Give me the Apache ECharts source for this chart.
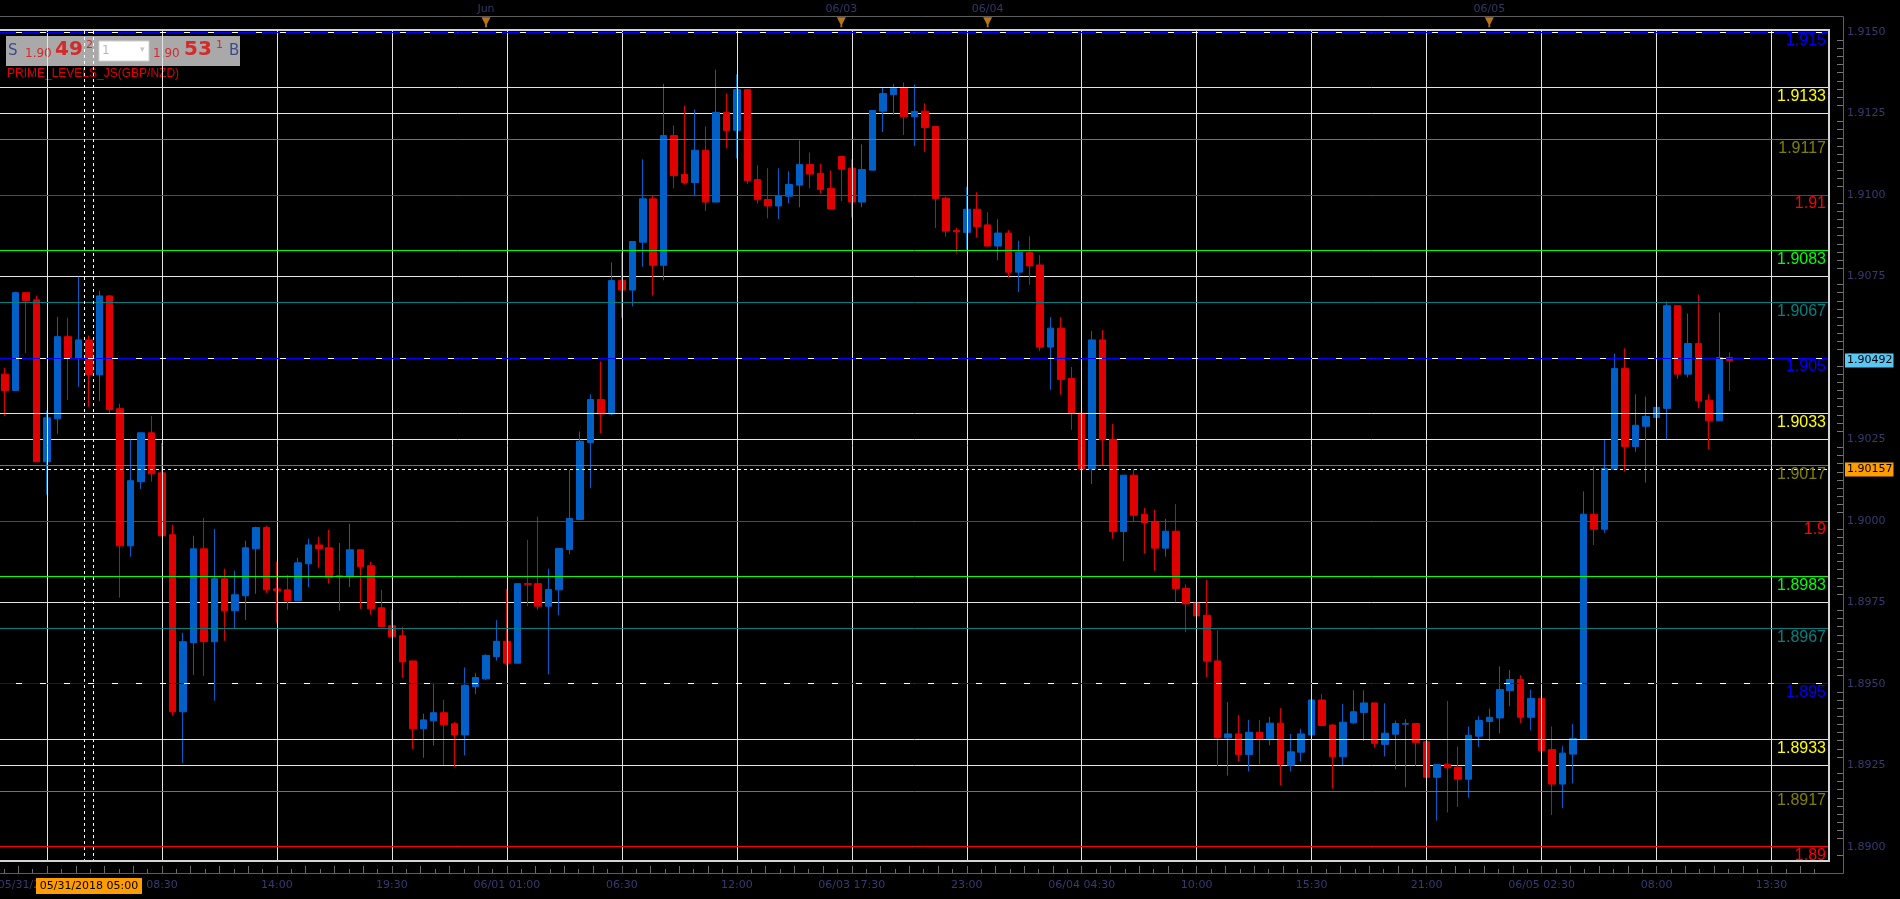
<!DOCTYPE html>
<html>
<head>
	<meta charset="utf-8"/>
	<title>GBP/NZD</title>
	<style>
		* { margin: 0; padding: 0; }
		body { background: #000; }
		#chart { width: 1900px; height: 899px; }
	</style>
</head>
<body>
	<div id="chart"></div>
	<script src="https://cdn.jsdelivr.net/npm/echarts@6/dist/echarts.min.js"></script>
	<script>
		// 30 min candles
		var opens = [
			1.9045, 1.9040, 1.9070, 1.90678, 1.90181, 1.90313, 1.90565, 1.90499, 1.90555, 1.90448,
			1.9069, 1.90344, 1.89923, 1.9012, 1.9027, 1.90147, 1.89957, 1.89414, 1.89626, 1.89914,
			1.89629, 1.89822, 1.89724, 1.8977, 1.89914, 1.89979, 1.89791, 1.89788, 1.89755, 1.89868,
			1.89926, 1.89917, 1.89828, 1.89828, 1.89911, 1.89862, 1.89733, 1.89678, 1.89647, 1.8957,
			1.89362, 1.89386, 1.89411, 1.89377, 1.89343, 1.89491, 1.89515, 1.89583, 1.8963, 1.89563,
			1.89807, 1.89807, 1.89738, 1.89788, 1.89912, 1.90004, 1.9024, 1.90372, 1.90328, 1.90737,
			1.90708, 1.90855, 1.90988, 1.90784, 1.91182, 1.91063, 1.91038, 1.91137, 1.90978, 1.91253,
			1.91198, 1.91323, 1.91047, 1.90986, 1.90966, 1.90996, 1.9103, 1.91093, 1.91066, 1.9102,
			1.91118, 1.91082, 1.90978, 1.91076, 1.91257, 1.91308, 1.91328, 1.9124, 1.91257, 1.9121,
			1.9099, 1.90891, 1.90885, 1.90956, 1.90908, 1.90843, 1.90883, 1.90763, 1.90824, 1.90785,
			1.90533, 1.90591, 1.90437, 1.9033, 1.90159, 1.90555, 1.9025, 1.89967, 1.9014, 1.9002,
			1.89996, 1.89916, 1.89968, 1.89793, 1.89747, 1.8971, 1.8957, 1.89334, 1.89346, 1.89283,
			1.89351, 1.89331, 1.89379, 1.8925, 1.8929, 1.89343, 1.8945, 1.89373, 1.89276, 1.8938,
			1.89412, 1.89441, 1.89314, 1.89345, 1.89376, 1.89378, 1.89322, 1.89213, 1.89253, 1.89244,
			1.89207, 1.89339, 1.89384, 1.89395, 1.89479, 1.89513, 1.89397, 1.89455, 1.89298, 1.89192,
			1.89284, 1.89329, 1.9002, 1.89974, 1.90158, 1.90467, 1.90228, 1.9029, 1.90317, 1.90345,
			1.9066, 1.9045, 1.90544, 1.9037, 1.90307, 1.90501
		];
		var highs = [
			1.90469, 1.90703, 1.9070, 1.90691, 1.90338, 1.90626, 1.90623, 1.90749, 1.90568, 1.90706,
			1.90693, 1.90359, 1.90249, 1.9027, 1.90322, 1.90239, 1.89988, 1.89656, 1.89954, 1.90009,
			1.89975, 1.89853, 1.89847, 1.89939, 1.89982, 1.89985, 1.89874, 1.89834, 1.89886, 1.89945,
			1.89951, 1.89972, 1.89932, 1.89991, 1.89911, 1.89874, 1.89788, 1.89727, 1.89675, 1.8957,
			1.89408, 1.89503, 1.89451, 1.89383, 1.8955, 1.89532, 1.8959, 1.89695, 1.8979, 1.89807,
			1.89942, 1.90013, 1.89853, 1.89915, 1.90156, 1.90274, 1.90388, 1.90489, 1.90793, 1.90822,
			1.90857, 1.91109, 1.90999, 1.91341, 1.91213, 1.91274, 1.91262, 1.9121, 1.91384, 1.91312,
			1.9137, 1.91323, 1.91091, 1.91082, 1.91082, 1.91072, 1.91167, 1.9113, 1.91096, 1.91075,
			1.91118, 1.91109, 1.91155, 1.91259, 1.91329, 1.9134, 1.91345, 1.91339, 1.91281, 1.9121,
			1.90995, 1.90898, 1.91024, 1.91008, 1.90947, 1.90925, 1.90892, 1.90859, 1.90873, 1.90815,
			1.90625, 1.90625, 1.90472, 1.9041, 1.90582, 1.90585, 1.90297, 1.9014, 1.90158, 1.90039,
			1.90033, 1.90006, 1.90051, 1.89805, 1.89794, 1.89818, 1.89664, 1.89444, 1.89404, 1.89389,
			1.89389, 1.89398, 1.89425, 1.89346, 1.89362, 1.89474, 1.89468, 1.89376, 1.89438, 1.8948,
			1.8948, 1.89441, 1.8944, 1.89387, 1.89391, 1.89378, 1.89354, 1.89252, 1.89447, 1.89307,
			1.89369, 1.894, 1.89424, 1.89553, 1.89542, 1.89526, 1.89482, 1.89468, 1.89369, 1.89308,
			1.89376, 1.9009, 1.90167, 1.90248, 1.90513, 1.90529, 1.90388, 1.90381, 1.9055, 1.90673,
			1.9066, 1.90636, 1.90694, 1.90388, 1.90639, 1.90517
		];
		var lows = [
			1.90322, 1.9040, 1.90515, 1.90181, 1.9008, 1.90267, 1.90371, 1.90411, 1.9035, 1.90368,
			1.90331, 1.89764, 1.8989, 1.90098, 1.9012, 1.89954, 1.89402, 1.89257, 1.89527, 1.89524,
			1.89448, 1.89632, 1.89669, 1.89696, 1.89776, 1.89779, 1.89687, 1.89727, 1.89755, 1.89797,
			1.89856, 1.89807, 1.89724, 1.89797, 1.8973, 1.89712, 1.89675, 1.89644, 1.89518, 1.893,
			1.89273, 1.8931, 1.89251, 1.89245, 1.8928, 1.89468, 1.89511, 1.89571, 1.89556, 1.89563,
			1.89738, 1.89727, 1.89529, 1.8971, 1.89898, 1.90004, 1.901, 1.90269, 1.90324, 1.90623,
			1.90658, 1.9078, 1.90691, 1.90738, 1.9102, 1.91032, 1.90996, 1.9095, 1.90978, 1.91143,
			1.91112, 1.91034, 1.90973, 1.90928, 1.90926, 1.90974, 1.90962, 1.9102, 1.91004, 1.90957,
			1.90981, 1.90931, 1.90962, 1.91076, 1.91193, 1.91245, 1.91184, 1.9115, 1.91132, 1.90898,
			1.90872, 1.90822, 1.90832, 1.90869, 1.90843, 1.90799, 1.90746, 1.90702, 1.90724, 1.90521,
			1.90402, 1.90387, 1.90279, 1.90138, 1.90113, 1.90171, 1.89945, 1.89877, 1.89996, 1.89899,
			1.89847, 1.8989, 1.8975, 1.89658, 1.89647, 1.89521, 1.89247, 1.89218, 1.89262, 1.89231,
			1.89253, 1.89311, 1.89188, 1.89231, 1.89262, 1.89343, 1.89372, 1.89178, 1.8925, 1.89376,
			1.89324, 1.89304, 1.89277, 1.89237, 1.89182, 1.89248, 1.89105, 1.8908, 1.89105, 1.89122,
			1.8915, 1.89306, 1.89324, 1.89348, 1.89431, 1.8938, 1.89357, 1.89258, 1.89097, 1.89118,
			1.89194, 1.89329, 1.89926, 1.89963, 1.90158, 1.90151, 1.90212, 1.90117, 1.90266, 1.9025,
			1.90435, 1.9044, 1.90345, 1.9022, 1.90307, 1.90398
		];
		var closes = [
			1.9040, 1.9070, 1.90675, 1.90181, 1.90316, 1.90565, 1.90499, 1.90555, 1.90448, 1.9069,
			1.90341, 1.89923, 1.90123, 1.9027, 1.90144, 1.89954, 1.89414, 1.89629, 1.89914, 1.89629,
			1.89822, 1.89724, 1.89773, 1.89917, 1.89979, 1.89788, 1.89785, 1.89755, 1.89871, 1.89926,
			1.89914, 1.89825, 1.89831, 1.89911, 1.89859, 1.8973, 1.89675, 1.89644, 1.89567, 1.89362,
			1.89389, 1.89411, 1.89374, 1.89343, 1.89495, 1.89519, 1.89587, 1.8963, 1.89563, 1.89807,
			1.89805, 1.89738, 1.89789, 1.89915, 1.90007, 1.90244, 1.90372, 1.90328, 1.90737, 1.90708,
			1.90857, 1.90988, 1.90784, 1.91182, 1.91059, 1.91038, 1.91137, 1.90978, 1.91253, 1.91198,
			1.91323, 1.91044, 1.90985, 1.90966, 1.90998, 1.91032, 1.91093, 1.91064, 1.91017, 1.90957,
			1.91079, 1.90978, 1.91078, 1.91259, 1.91311, 1.91327, 1.9124, 1.91256, 1.91207, 1.90989,
			1.90889, 1.90887, 1.90956, 1.90903, 1.90843, 1.90883, 1.90763, 1.90824, 1.90782, 1.90533,
			1.90591, 1.90434, 1.90329, 1.90159, 1.90555, 1.90249, 1.89967, 1.9014, 1.90017, 1.89994,
			1.89916, 1.89968, 1.89792, 1.89745, 1.89708, 1.89569, 1.89334, 1.89346, 1.89283, 1.89351,
			1.89331, 1.89379, 1.89253, 1.89291, 1.89346, 1.8945, 1.89372, 1.89276, 1.89382, 1.89414,
			1.89441, 1.89317, 1.89348, 1.89378, 1.89378, 1.8932, 1.89213, 1.89252, 1.89242, 1.89207,
			1.89342, 1.89387, 1.89397, 1.89482, 1.89513, 1.89397, 1.89455, 1.89295, 1.89192, 1.89287,
			1.89332, 1.9002, 1.89974, 1.90161, 1.90467, 1.90228, 1.90293, 1.9032, 1.90348, 1.9066,
			1.9045, 1.90544, 1.90368, 1.90307, 1.90501, 1.90492
		];

		var slotCount = 175;		// bar slots on the axis, the last ones are empty
		var tickStart = 4, tickStep = 11;
		var tickLabels = ['05/31/2018 03:00', '08:30', '14:00', '19:30', '06/01 01:00', '06:30', '12:00',
			'06/03 17:30', '23:00', '06/04 04:30', '10:00', '15:30', '21:00', '06/05 02:30', '08:00', '13:30'];
		var yTicks = [1.8900, 1.8925, 1.8950, 1.8975, 1.9000, 1.9025, 1.9050, 1.9075, 1.9100, 1.9125, 1.9150];

		var levelValues = [1.915, 1.9133, 1.9117, 1.91, 1.9083, 1.9067, 1.905, 1.9033, 1.9017, 1.9,
			1.8983, 1.8967, 1.895, 1.8933, 1.8917, 1.89];
		var levelLabels = ['1.915', '1.9133', '1.9117', '1.91', '1.9083', '1.9067', '1.905', '1.9033', '1.9017', '1.9',
			'1.8983', '1.8967', '1.895', '1.8933', '1.8917', '1.89'];
		var levelColors = ['#0000ff', '#ffff00', '#808000', '#ff0000', '#00ff00', '#008080', '#0000ff', '#ffff00', '#808000', '#ff0000',
			'#00ff00', '#008080', '#0000ff', '#ffff00', '#808000', '#ff0000'];

		var markerIdx = [46, 80, 94, 142];
		var markerNames = ['Jun', '06/03', '06/04', '06/05'];

		var lastPrice = 1.90492;
		var crossPrice = 1.90157;
		var crossIdx = 8;
		var crossLabel = '05/31/2018 05:00';

		var axisFont = 'DejaVu Sans';
		var axisTextColor = '#363a70';

		var slots = [];
		for (var i = 0; i < slotCount; i++) slots.push(String(i));

		var candles = opens.map(function (o, i) {
			return [o, closes[i], lows[i], highs[i]];
		});

		function isTick(i) {
			return i >= tickStart && (i - tickStart) % tickStep === 0;
		}

		// small ticks on the bottom axis, 8 per labelled step
		var tallTicks = [], shortTicks = [];
		for (var k = -2; k < 64; k++) {
			var t = tickStart + k * tickStep / 4;
			if (t > -0.5 && t < slotCount - 0.5) tallTicks.push(t);
			var s = t + tickStep / 8;
			if (s > -0.5 && s < slotCount - 0.5) shortTicks.push(s);
		}
		// minor ticks on the price axis
		var yMinor = [];
		for (var k = -1; k < 100; k++) {
			if (k % 10 !== 0) yMinor.push(Math.round((1.89 + k * 0.00025) * 100000) / 100000);
		}

		var levelLines = [];
		levelValues.forEach(function (v, i) {
			levelLines.push({
				yAxis: v,
				lineStyle: { color: levelColors[i], width: 1, type: 'solid' },
				label: {
					show: true, position: 'insideEndBottom', formatter: levelLabels[i],
					color: levelColors[i], fontSize: 16, fontFamily: 'Liberation Sans', distance: [3, 1]
				}
			});
			if (levelColors[i] === '#0000ff') {
				levelLines.push({
					yAxis: v,
					lineStyle: { color: '#ffffff', width: 1, type: [6, 18], dashOffset: 8 },
					label: { show: false }
				});
			}
		});
		var vLines = [];
		for (var i = 0; i < slotCount; i++) {
			if (isTick(i)) vLines.push({ xAxis: i, lineStyle: { color: '#e4e4e4', width: 1, type: 'solid' }, label: { show: false } });
		}

		var plotBox = { left: 0, right: 71, top: 30, bottom: 38, outerBoundsMode: 'none' };
		var noLine = { show: false, onZero: false };

		var myChart = echarts.init(document.getElementById('chart'));

		var option = {
			backgroundColor: '#000',
			animation: false,
			grid: [
				plotBox,
				{ left: 0, right: 71, top: 17, bottom: 869, outerBoundsMode: 'none' },
				plotBox,
				plotBox
			],
			xAxis: [
				{
					type: 'category', gridIndex: 0, data: slots, boundaryGap: true,
					position: 'bottom', offset: 12,
					axisLine: noLine,
					axisTick: { inside: true, length: 12, alignWithLabel: true, interval: isTick, lineStyle: { color: '#6a6a6a' } },
					axisLabel: {
						interval: isTick, hideOverlap: false, margin: 7,
						formatter: function (v, idx) { return tickLabels[(idx - tickStart) / tickStep]; },
						color: axisTextColor, fontFamily: axisFont, fontSize: 11
					},
					splitLine: { show: false }
				},
				{
					type: 'category', gridIndex: 1, data: slots, boundaryGap: true, position: 'top',
					axisLine: noLine, axisLabel: { show: false }, splitLine: { show: false },
					axisTick: {
						inside: true, length: 6, alignWithLabel: true,
						interval: function (i) { return i >= tickStart && (i - tickStart) % 6 === 0; },
						lineStyle: { color: '#666' }
					}
				},
				{
					type: 'value', gridIndex: 2, min: -0.5, max: slotCount - 0.5, position: 'bottom', offset: 12,
					axisLine: noLine, axisLabel: { show: false }, splitLine: { show: false },
					axisTick: { inside: true, length: 7, customValues: tallTicks, lineStyle: { color: '#6a6a6a' } }
				},
				{
					type: 'value', gridIndex: 3, min: -0.5, max: slotCount - 0.5, position: 'bottom', offset: 12,
					axisLine: noLine, axisLabel: { show: false }, splitLine: { show: false },
					axisTick: { inside: true, length: 4, customValues: shortTicks, lineStyle: { color: '#6a6a6a' } }
				}
			],
			yAxis: [
				{
					type: 'value', gridIndex: 0, min: 1.88956, max: 1.91506, position: 'right', offset: 15,
					axisLine: noLine,
					axisTick: { inside: true, length: 14, customValues: yTicks, lineStyle: { color: '#777' } },
					axisLabel: {
						customValues: yTicks, margin: 3, hideOverlap: false,
						formatter: function (v) { return v.toFixed(4); },
						color: axisTextColor, fontFamily: axisFont, fontSize: 11
					},
					splitLine: { show: true, lineStyle: { color: '#e4e4e4', width: 1 } }
				},
				{ type: 'value', gridIndex: 1, min: 0, max: 1, show: false, axisLine: noLine },
				{
					type: 'value', gridIndex: 2, min: 1.88956, max: 1.91506, position: 'right', offset: 15,
					axisLine: noLine, axisLabel: { show: false }, splitLine: { show: false },
					axisTick: { inside: true, length: 7, customValues: yMinor, lineStyle: { color: '#777' } }
				},
				{ type: 'value', gridIndex: 3, min: 0, max: 1, show: false, axisLine: noLine }
			],
			series: [
				{
					name: 'levels', type: 'line', xAxisIndex: 0, yAxisIndex: 0, data: [], z: 1,
					markLine: {
						silent: true, symbol: ['none', 'none'], animation: false, precision: 5,
						data: vLines.concat(levelLines)
					}
				},
				{
					name: 'GBP/NZD', type: 'candlestick', xAxisIndex: 0, yAxisIndex: 0, z: 3,
					data: candles, barWidth: 7, clip: false,
					itemStyle: {
						color: '#0060c8', color0: '#e00000',
						borderColor: '#0060c8', borderColor0: '#e00000', borderWidth: 1
					}
				},
				{
					name: 'prices', type: 'line', xAxisIndex: 0, yAxisIndex: 0, data: [], z: 5,
					markLine: {
						silent: true, symbol: ['none', 'none'], animation: false, precision: 5,
						data: [
							{
								yAxis: crossPrice,
								lineStyle: { color: '#ffffff', width: 1, type: [3, 3] },
								label: {
									show: true, position: 'end', distance: 16, formatter: crossPrice.toFixed(5),
									backgroundColor: '#ff9c00', color: '#000', padding: [2, 1, 1, 2],
									fontFamily: axisFont, fontSize: 11
								}
							},
							{
								yAxis: lastPrice,
								lineStyle: { color: 'rgba(0,0,0,0)', width: 1 },
								label: {
									show: true, position: 'end', distance: 16, formatter: lastPrice.toFixed(5),
									backgroundColor: '#5cc6f2', color: '#000', padding: [2, 1, 1, 2],
									fontFamily: axisFont, fontSize: 11
								}
							}
						]
					}
				},
				{
					name: 'days', type: 'scatter', xAxisIndex: 1, yAxisIndex: 1, z: 6,
					symbol: 'path://M0,0 L10,0 L6,7 L6,10 L4,10 L4,7 Z', symbolSize: [9, 10],
					itemStyle: { color: '#e8901a' },
					label: {
						show: true, position: 'top', distance: 3, formatter: '{b}',
						color: '#3b4680', fontFamily: axisFont, fontSize: 11
					},
					data: markerIdx.map(function (x, i) { return { name: markerNames[i], value: [x, 0.6] }; })
				}
			],
			graphic: [
				{
					type: 'polyline', z: 10, silent: true,
					shape: { points: [[0, 16.5], [1843.5, 16.5], [1843.5, 873.5], [0, 873.5]] },
					style: { stroke: '#5e5e5e', lineWidth: 1, fill: null }
				},
				{
					type: 'polyline', z: 10, silent: true,
					shape: { points: [[0, 30], [1829, 30], [1829, 861], [0, 861]] },
					style: { stroke: '#d4d4d4', lineWidth: 2, fill: null }
				},
				{
					type: 'group', z: 20, silent: true,
					children: [
						{ type: 'rect', shape: { x: 6, y: 36, width: 234, height: 30 }, style: { fill: '#a9a9a9' } },
						{ type: 'text', style: { text: 'S', x: 8, y: 51, fill: '#3c4b8c', font: '15px DejaVu Sans', verticalAlign: 'middle' } },
						{ type: 'text', style: { text: '1.90', x: 25, y: 54, fill: '#d42a2a', font: '12px DejaVu Sans', verticalAlign: 'middle' } },
						{ type: 'text', style: { text: '49', x: 55, y: 50, fill: '#d42a2a', font: 'bold 20px DejaVu Sans', verticalAlign: 'middle' } },
						{ type: 'text', style: { text: '2', x: 86, y: 45, fill: '#d42a2a', font: '11px DejaVu Sans', verticalAlign: 'middle' } },
						{ type: 'rect', shape: { x: 99, y: 41, width: 50, height: 20 }, style: { fill: '#ffffff', stroke: '#cfcfcf', lineWidth: 1 } },
						{ type: 'text', style: { text: '1', x: 102, y: 51, fill: '#b8b8b8', font: '12px DejaVu Sans', verticalAlign: 'middle' } },
						{ type: 'text', style: { text: '\u25BE', x: 140, y: 50, fill: '#c8c8c8', font: '9px DejaVu Sans', verticalAlign: 'middle' } },
						{ type: 'text', style: { text: '1.90', x: 153, y: 54, fill: '#d42a2a', font: '12px DejaVu Sans', verticalAlign: 'middle' } },
						{ type: 'text', style: { text: '53', x: 184, y: 50, fill: '#d42a2a', font: 'bold 20px DejaVu Sans', verticalAlign: 'middle' } },
						{ type: 'text', style: { text: '1', x: 216, y: 45, fill: '#d42a2a', font: '11px DejaVu Sans', verticalAlign: 'middle' } },
						{ type: 'text', style: { text: 'B', x: 229, y: 51, fill: '#3c4b8c', font: '15px DejaVu Sans', verticalAlign: 'middle' } },
						{ type: 'text', style: { text: 'PRIME_LEVELS_JS(GBP/NZD)', x: 7, y: 74, fill: '#e00000', font: '12px Liberation Sans', verticalAlign: 'middle' } }
					]
				}
			]
		};

		myChart.setOption(option);

		// crosshair on the 05:00 bar, placed with the axis scale
		var cx = myChart.convertToPixel({ xAxisIndex: 0 }, crossIdx);
		var bw = myChart.convertToPixel({ xAxisIndex: 0 }, crossIdx + 1) - cx;
		var xl = Math.round(cx - bw / 2) + 0.5, xr = Math.round(cx + bw / 2) - 0.5;
		myChart.setOption({
			graphic: [
				{ id: 'cl', type: 'line', z: 12, silent: true, shape: { x1: xl, y1: 31, x2: xl, y2: 860 }, style: { stroke: '#fff', lineWidth: 1, lineDash: [3, 3] } },
				{ id: 'cr', type: 'line', z: 12, silent: true, shape: { x1: xr, y1: 31, x2: xr, y2: 860 }, style: { stroke: '#fff', lineWidth: 1, lineDash: [3, 3] } },
				{ id: 'cbox', type: 'rect', z: 12, silent: true, shape: { x: Math.round(cx) - 53, y: 878, width: 106, height: 16 }, style: { fill: '#ff9c00' } },
				{ id: 'ctext', type: 'text', z: 13, silent: true, style: { text: crossLabel, x: Math.round(cx), y: 886.5, fill: '#000', font: '11px DejaVu Sans', align: 'center', verticalAlign: 'middle' } }
			]
		});
	</script>
</body>
</html>
